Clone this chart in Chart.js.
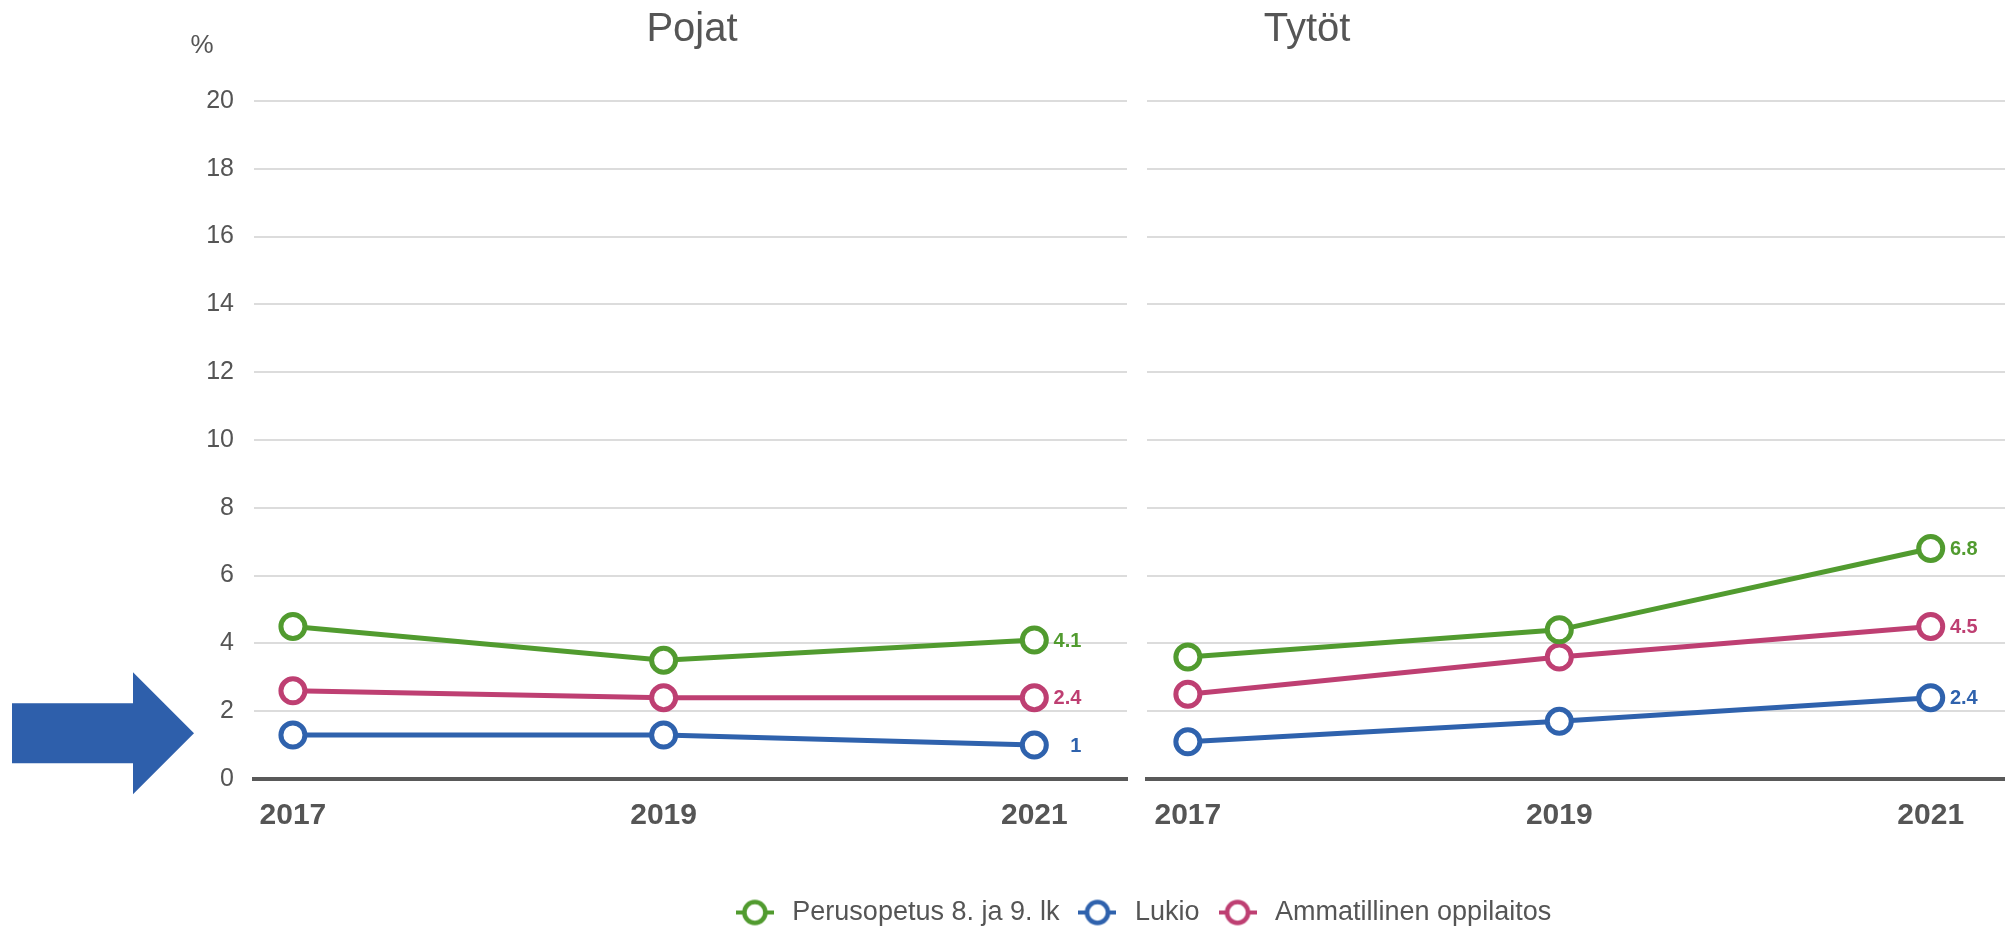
<!DOCTYPE html>
<html lang="fi">
<head>
<meta charset="UTF-8">
<title>Pojat ja tytöt 2017–2021</title>
<script src="https://cdn.jsdelivr.net/npm/chart.js"></script>
<style>
  body { margin: 0; background: #fff; }
  #wrap { position: relative; width: 2005px; height: 933px; overflow: hidden; }
  #wrap canvas { position: absolute; }
</style>
</head>
<body>
<div id="wrap">
  <canvas id="pojat" width="1137" height="860" style="left:0;top:0"></canvas>
  <canvas id="tytot" width="868" height="860" style="left:1137px;top:0"></canvas>
  <canvas id="selite" width="1710" height="140" style="left:286px;top:885px"></canvas>
</div>
<script>
  // vuodet ja sarjat
  const vuodet = [2017, 2019, 2021];
  const sarjat = ['Perusopetus 8. ja 9. lk', 'Lukio', 'Ammatillinen oppilaitos'];
  const varit = ['#519b2f', '#2f62ad', '#be3f72'];
  const yTicks = [0, 2, 4, 6, 8, 10, 12, 14, 16, 18, 20];

  // Pojat (%)
  const pojatPerus = [4.5, 3.5, 4.1];
  const pojatLukio = [1.3, 1.3, 1];
  const pojatAmm = [2.6, 2.4, 2.4];

  // Tytöt (%)
  const tytotPerus = [3.6, 4.4, 6.8];
  const tytotLukio = [1.1, 1.7, 2.4];
  const tytotAmm = [2.5, 3.6, 4.5];

  const FONT = "'Liberation Sans', Arial, sans-serif";
  const TEKSTI = '#555555';
  Chart.defaults.font.family = FONT;

  function datasetit(arvot) {
    return arvot.map((a, i) => ({
      label: sarjat[i],
      data: vuodet.map((v, j) => ({ x: v, y: a[j] })),
      borderColor: varit[i],
      backgroundColor: '#ffffff',
      borderWidth: 5,
      pointRadius: 12,
      pointHoverRadius: 12,
      pointBorderWidth: 5,
      pointBackgroundColor: '#ffffff',
      pointBorderColor: varit[i],
      tension: 0
    }));
  }

  // viimeisen vuoden arvo pisteen oikealle puolelle
  const loppuArvot = {
    id: 'loppuArvot',
    afterDatasetsDraw(chart) {
      const ctx = chart.ctx;
      ctx.save();
      ctx.font = 'bold 20px ' + FONT;
      ctx.textAlign = 'right';
      ctx.textBaseline = 'middle';
      chart.data.datasets.forEach((ds, i) => {
        const pts = chart.getDatasetMeta(i).data;
        const p = pts[pts.length - 1];
        ctx.fillStyle = ds.borderColor;
        ctx.fillText(String(ds.data[ds.data.length - 1].y), p.x + 47, p.y + 1);
      });
      ctx.restore();
    }
  };

  // paneelin otsikko
  const otsikko = {
    id: 'otsikko',
    afterDraw(chart, args, opts) {
      const ctx = chart.ctx;
      ctx.save();
      ctx.font = '40px ' + FONT;
      ctx.fillStyle = TEKSTI;
      ctx.textAlign = 'center';
      ctx.textBaseline = 'middle';
      ctx.fillText(opts.text, chart.chartArea.left + opts.x, 30);
      ctx.restore();
    }
  };

  // %-merkki ja nuoli vasempaan paneeliin
  const yksikkoJaNuoli = {
    id: 'yksikkoJaNuoli',
    afterDraw(chart) {
      const ctx = chart.ctx;
      const y = chart.scales.y;
      ctx.save();
      ctx.font = '26px ' + FONT;
      ctx.fillStyle = TEKSTI;
      ctx.textAlign = 'center';
      ctx.textBaseline = 'middle';
      ctx.fillText('%', 202, 46);

      const tx = chart.chartArea.left - 60;
      const ty = y.getPixelForValue(1.35);
      ctx.fillStyle = '#2e5fab';
      ctx.beginPath();
      ctx.moveTo(tx, ty);
      ctx.lineTo(tx - 61, ty - 61);
      ctx.lineTo(tx - 61, ty - 30);
      ctx.lineTo(tx - 182, ty - 30);
      ctx.lineTo(tx - 182, ty + 30);
      ctx.lineTo(tx - 61, ty + 30);
      ctx.lineTo(tx - 61, ty + 61);
      ctx.closePath();
      ctx.fill();
      ctx.restore();
    }
  };

  function asetukset(xMin, xMax, yLeveys, naytaY, oikea, teksti, tekstiX) {
    return {
      responsive: false,
      animation: false,
      layout: { autoPadding: false, padding: { top: 101, right: oikea, left: 0, bottom: 0 } },
      plugins: {
        legend: { display: false },
        tooltip: { enabled: false },
        otsikko: { text: teksti, x: tekstiX }
      },
      scales: {
        x: {
          type: 'linear',
          min: xMin,
          max: xMax,
          afterBuildTicks: s => { s.ticks = vuodet.map(v => ({ value: v })); },
          afterFit: s => { s.height = 81; s.paddingLeft = 0; s.paddingRight = 0; },
          ticks: {
            callback: v => String(v),
            autoSkip: false,
            maxRotation: 0,
            padding: 19,
            color: TEKSTI,
            font: { size: 30, weight: 'bold' }
          },
          grid: { display: false, drawTicks: false },
          border: { display: true, color: '#595959', width: 4 }
        },
        y: {
          min: 0,
          max: 20,
          afterBuildTicks: s => { s.ticks = yTicks.map(v => ({ value: v })); },
          afterFit: s => { s.width = yLeveys; },
          ticks: {
            display: naytaY,
            padding: 20,
            color: TEKSTI,
            font: { size: 25 }
          },
          grid: { color: '#dcdcdc', lineWidth: 2, drawTicks: false },
          border: { display: false }
        }
      }
    };
  }

  new Chart(document.getElementById('pojat'), {
    type: 'line',
    data: { datasets: datasetit([pojatPerus, pojatLukio, pojatAmm]) },
    options: asetukset(2016.79, 2021.5, 254, true, 10, 'Pojat', 438),
    plugins: [loppuArvot, otsikko, yksikkoJaNuoli]
  });

  new Chart(document.getElementById('tytot'), {
    type: 'line',
    data: { datasets: datasetit([tytotPerus, tytotLukio, tytotAmm]) },
    options: asetukset(2016.78, 2021.4, 10, false, 0, 'Tytöt', 160),
    plugins: [loppuArvot, otsikko]
  });

  // selitteen merkki: viiva ja ympyrä
  function merkki(vari) {
    const c = document.createElement('canvas');
    c.width = 38;
    c.height = 32;
    const g = c.getContext('2d');
    g.strokeStyle = vari;
    g.lineWidth = 4;
    g.beginPath();
    g.moveTo(0, 16);
    g.lineTo(38, 16);
    g.stroke();
    g.lineWidth = 4.5;
    g.fillStyle = '#ffffff';
    g.beginPath();
    g.arc(19, 16, 10.5, 0, Math.PI * 2);
    g.fill();
    g.stroke();
    return c;
  }
  const merkit = varit.map(merkki);

  new Chart(document.getElementById('selite'), {
    type: 'line',
    data: { datasets: sarjat.map((s, i) => ({ label: s, data: [], borderColor: varit[i] })) },
    options: {
      responsive: false,
      animation: false,
      layout: { padding: 0 },
      scales: { x: { display: false }, y: { display: false } },
      plugins: {
        tooltip: { enabled: false },
        legend: {
          position: 'top',
          labels: {
            usePointStyle: true,
            pointStyleWidth: 48,
            padding: 14,
            color: TEKSTI,
            font: { size: 27 },
            generateLabels: ch => ch.data.datasets.map((d, i) => ({
              text: d.label,
              pointStyle: merkit[i],
              fillStyle: 'transparent',
              strokeStyle: 'transparent',
              lineWidth: 0,
              fontColor: TEKSTI,
              hidden: false,
              datasetIndex: i
            }))
          }
        }
      }
    }
  });
</script>
</body>
</html>
